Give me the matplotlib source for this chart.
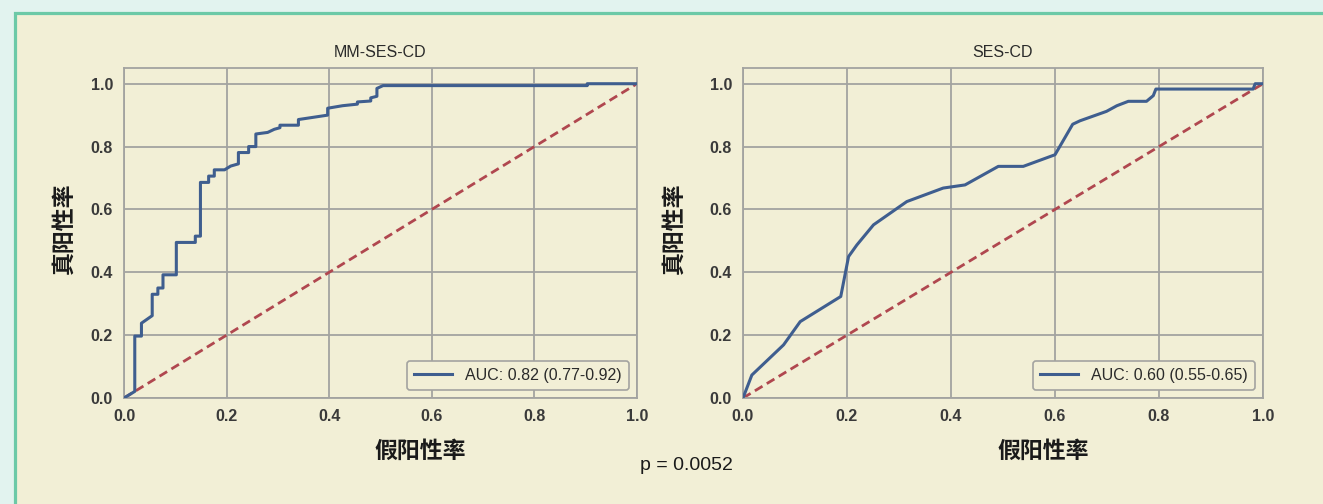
import matplotlib
matplotlib.use("Agg")
import matplotlib.pyplot as plt
from matplotlib.patches import Rectangle

# ---- data ----
mm_fpr = [0.000, 0.021, 0.021, 0.034, 0.034, 0.055, 0.055, 0.066, 0.066, 0.076,
          0.076, 0.102, 0.102, 0.139, 0.139, 0.149, 0.149, 0.165, 0.165, 0.176,
          0.176, 0.196, 0.208, 0.223, 0.223, 0.243, 0.243, 0.257, 0.257, 0.280,
          0.293, 0.304, 0.304, 0.340, 0.340, 0.397, 0.397, 0.426, 0.455, 0.455,
          0.481, 0.481, 0.493, 0.493, 0.505, 0.903, 0.903, 1.000]
mm_tpr = [0.000, 0.021, 0.197, 0.197, 0.238, 0.262, 0.330, 0.330, 0.350, 0.350,
          0.392, 0.392, 0.495, 0.495, 0.515, 0.515, 0.686, 0.686, 0.706, 0.706,
          0.726, 0.726, 0.738, 0.745, 0.781, 0.781, 0.800, 0.800, 0.840, 0.845,
          0.855, 0.860, 0.868, 0.868, 0.886, 0.900, 0.922, 0.930, 0.935, 0.942,
          0.945, 0.955, 0.960, 0.985, 0.994, 0.994, 1.000, 1.000]

ses_fpr = [0.000, 0.017, 0.078, 0.110, 0.188, 0.203, 0.219, 0.251, 0.315, 0.385,
           0.427, 0.491, 0.539, 0.600, 0.613, 0.634, 0.648, 0.699, 0.719, 0.741,
           0.776, 0.789, 0.794, 0.981, 0.985, 1.000]
ses_tpr = [0.000, 0.073, 0.169, 0.243, 0.323, 0.450, 0.487, 0.551, 0.625, 0.668,
           0.678, 0.737, 0.737, 0.774, 0.811, 0.871, 0.882, 0.912, 0.930, 0.944,
           0.944, 0.962, 0.983, 0.983, 1.000, 1.000]

titles = ["MM-SES-CD", "SES-CD"]
auc_labels = ["AUC: 0.82 (0.77-0.92)", "AUC: 0.60 (0.55-0.65)"]
p_text = "p = 0.0052"
ticks = [0.0, 0.2, 0.4, 0.6, 0.8, 1.0]

# ---- style ----
CREAM = "#f2efd6"
MINT = "#e2f3ef"
GREEN = "#6cc9a7"
BLUE = "#3f5e8f"
RED = "#b0474f"
GRID = "#a3a3a0"
LATIN = ["Liberation Sans", "DejaVu Sans"]
CJK = ["Noto Sans CJK SC", "DejaVu Sans"]

plt.rcParams["font.family"] = LATIN

W, H = 1323, 504
fig = plt.figure(figsize=(W / 100, H / 100), dpi=100, facecolor=MINT)
fig.patches.append(Rectangle((14.5 / W, -0.2), 2.0, 1.2 - 13.5 / H,
                             transform=fig.transFigure, facecolor=CREAM,
                             edgecolor=GREEN, linewidth=2.3, zorder=-10))

# axes boxes in pixels (left, right)
boxes = [(124, 637), (743, 1263)]
top_px, bot_px = 68, 398
series = [(mm_fpr, mm_tpr), (ses_fpr, ses_tpr)]
ylab_x = [-0.094, -0.11]

for i, (l, r) in enumerate(boxes):
    ax = fig.add_axes([l / W, 1 - bot_px / H, (r - l) / W, (bot_px - top_px) / H])
    ax.set_facecolor(CREAM)
    fpr, tpr = series[i]
    ax.plot(fpr, tpr, color=BLUE, lw=2.2, label=auc_labels[i], zorder=3)
    ax.plot([0, 1], [0, 1], color=RED, lw=2, ls=(0, (3.2, 1.8)), zorder=2)
    ax.set_xlim(0, 1)
    ax.set_ylim(0, 1.05)
    ax.set_xticks(ticks)
    ax.set_yticks(ticks)
    ax.set_xticklabels([f"{t:.1f}" for t in ticks])
    ax.set_yticklabels([f"{t:.1f}" for t in ticks])
    ax.grid(True, color=GRID, lw=1.3)
    ax.set_axisbelow(True)
    for s in ax.spines.values():
        s.set_color(GRID)
        s.set_linewidth(1.3)
    ax.tick_params(length=0, pad=8, labelsize=11.5, labelcolor="#3a3a3a")
    for lab in ax.get_xticklabels() + ax.get_yticklabels():
        lab.set_fontweight("bold")
    ax.set_title(titles[i], fontsize=11.5, color="#2a2a2a", pad=8)
    ax.set_xlabel("假阳性率", family=CJK, fontsize=16.5, fontweight="bold",
                  color="#1a1a1a")
    ax.xaxis.set_label_coords(0.578, -0.128)
    ax.set_ylabel("真阳性率", family=CJK, fontsize=16.5, fontweight="bold",
                  color="#1a1a1a")
    ax.yaxis.set_label_coords(ylab_x[i], 0.515)
    leg = ax.legend(loc="lower right", fontsize=11.5, frameon=True,
                    facecolor=CREAM, edgecolor=GRID, framealpha=1,
                    handlelength=2.4, borderpad=0.45)
    leg.get_frame().set_linewidth(1.2)
    for t in leg.get_texts():
        t.set_color("#2a2a2a")

fig.text(686 / W, 1 - 466 / H, p_text, ha="center", va="center",
         fontsize=14, color="#1a1a1a")

fig.savefig("out.png", dpi=100, facecolor=fig.get_facecolor())
